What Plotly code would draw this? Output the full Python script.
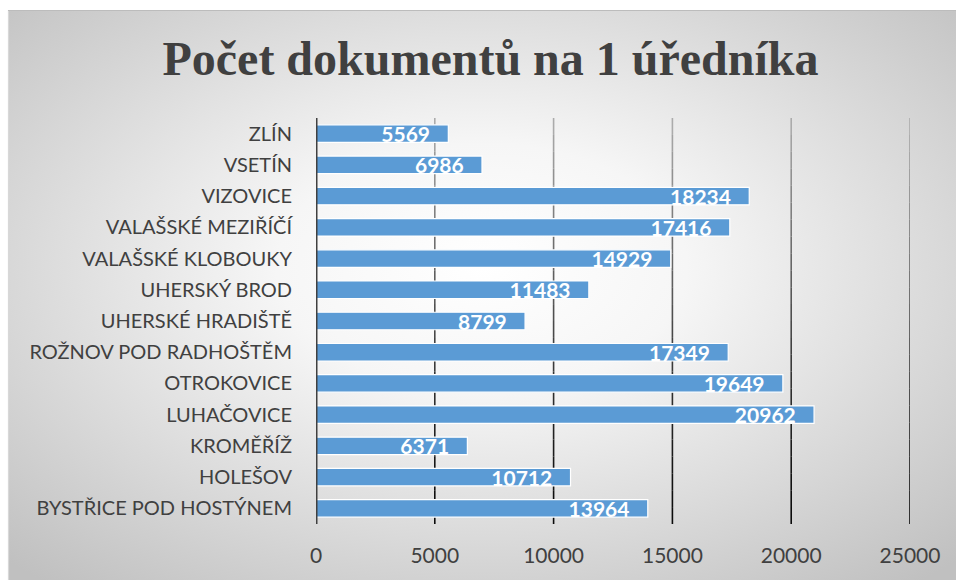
import plotly.graph_objects as go
import urllib.parse

categories = [
    "BYSTŘICE POD HOSTÝNEM", "HOLEŠOV", "KROMĚŘÍŽ", "LUHAČOVICE", "OTROKOVICE",
    "ROŽNOV POD RADHOŠTĚM", "UHERSKÉ HRADIŠTĚ", "UHERSKÝ BROD", "VALAŠSKÉ KLOBOUKY",
    "VALAŠSKÉ MEZIŘÍČÍ", "VIZOVICE", "VSETÍN", "ZLÍN",
]
values = [13964, 10712, 6371, 20962, 19649, 17349, 8799, 11483, 14929, 17416, 18234, 6986, 5569]
tick_values = [0, 5000, 10000, 15000, 20000, 25000]
tick_labels = ["0", "5000", "10000", "15000", "20000", "25000"]
title_text = "Počet dokumentů na 1 úředníka"

W, H = 956, 580
ML, MR, MT, MB = 316, 46, 118, 56
pw, ph = W - ML - MR, H - MT - MB
FX0, FY0 = 8, 10  # top-left corner of the grey chart frame

def fx(px):
    return (px - ML) / pw

def fy(py):
    return (H - MB - py) / ph

svg = (
    "<svg xmlns='http://www.w3.org/2000/svg' width='948' height='570' viewBox='0 0 948 570' preserveAspectRatio='none'>"
    "<defs><radialGradient id='g' cx='0.50' cy='0.45' r='0.72' gradientUnits='objectBoundingBox'>"
    "<stop offset='0' stop-color='#ffffff'/>"
    "<stop offset='0.3' stop-color='#f6f6f6'/>"
    "<stop offset='1' stop-color='#c0c0c0'/>"
    "</radialGradient></defs>"
    "<rect width='948' height='570' fill='url(#g)'/></svg>"
)
src = "data:image/svg+xml;charset=utf-8," + urllib.parse.quote(svg)

fig = go.Figure()
fig.add_trace(go.Bar(
    y=categories, x=values, orientation="h",
    marker=dict(color="#5B9BD5", line=dict(color="white", width=1.2)),
    text=[f"{v}\u00a0\u00a0\u00a0" for v in values],
    textposition="inside", insidetextanchor="end",
    constraintext="none",
    textfont=dict(family="Lato", size=21, color="white", weight="bold"),
    cliponaxis=False,
    width=0.56,
))

# vertical gridlines with a light-to-dark vertical fade
shapes = []
nseg = 24
for tv in tick_values[1:]:
    for i in range(nseg):
        t = (i + 0.5) / nseg  # 0 at top, 1 at bottom
        c = int(round(176 * (1 - t) ** 1.3 + 10 * t))
        shapes.append(dict(type="line", xref="x", yref="paper", x0=tv, x1=tv,
                           y0=1 - (i + 1) / nseg, y1=1 - i / nseg,
                           line=dict(color=f"rgb({c},{c},{c})", width=1.6), layer="below"))
shapes.append(dict(type="line", xref="x", yref="paper", x0=0, x1=0, y0=0, y1=1,
                   line=dict(color="#404040", width=3), layer="above"))
shapes.append(dict(type="line", xref="paper", yref="paper",
                   x0=fx(FX0 + 0.5), x1=fx(FX0 + 0.5), y0=fy(H), y1=fy(FY0),
                   line=dict(color="#d8d8d8", width=1.2), layer="below"))
shapes.append(dict(type="line", xref="paper", yref="paper",
                   x0=fx(FX0), x1=fx(W), y0=fy(FY0 + 0.5), y1=fy(FY0 + 0.5),
                   line=dict(color="#bcbcbc", width=1.2), layer="below"))

fig.update_layout(
    width=W, height=H,
    margin=dict(l=ML, r=MR, t=MT, b=MB, pad=0),
    paper_bgcolor="white", plot_bgcolor="rgba(0,0,0,0)",
    showlegend=False,
    title=dict(text=title_text, x=490.5 / W, xanchor="center", y=1 - 58 / H, yanchor="middle",
               font=dict(family="Liberation Serif", size=48, color="#404040", weight="bold")),
    xaxis=dict(range=[0, 25000], tickvals=tick_values, ticktext=tick_labels,
               showgrid=False, zeroline=False, showline=False, ticks="", ticklabelstandoff=17,
               tickfont=dict(family="Lato", size=21, color="#404040")),
    yaxis=dict(categoryorder="array", categoryarray=categories, showgrid=False,
               zeroline=False, showline=False, ticks="", ticklabelstandoff=23,
               tickfont=dict(family="Lato", size=20, color="#404040")),
    images=[dict(source=src, xref="paper", yref="paper",
                 x=fx(FX0), y=fy(FY0), sizex=(W - FX0) / pw, sizey=(H - FY0) / ph,
                 xanchor="left", yanchor="top", sizing="stretch", layer="below")],
    shapes=shapes,
)

fig.write_html(
    "out.html",
    config={"displayModeBar": False},
    post_script="document.body.style.margin='0';document.documentElement.style.overflow='hidden';",
)
